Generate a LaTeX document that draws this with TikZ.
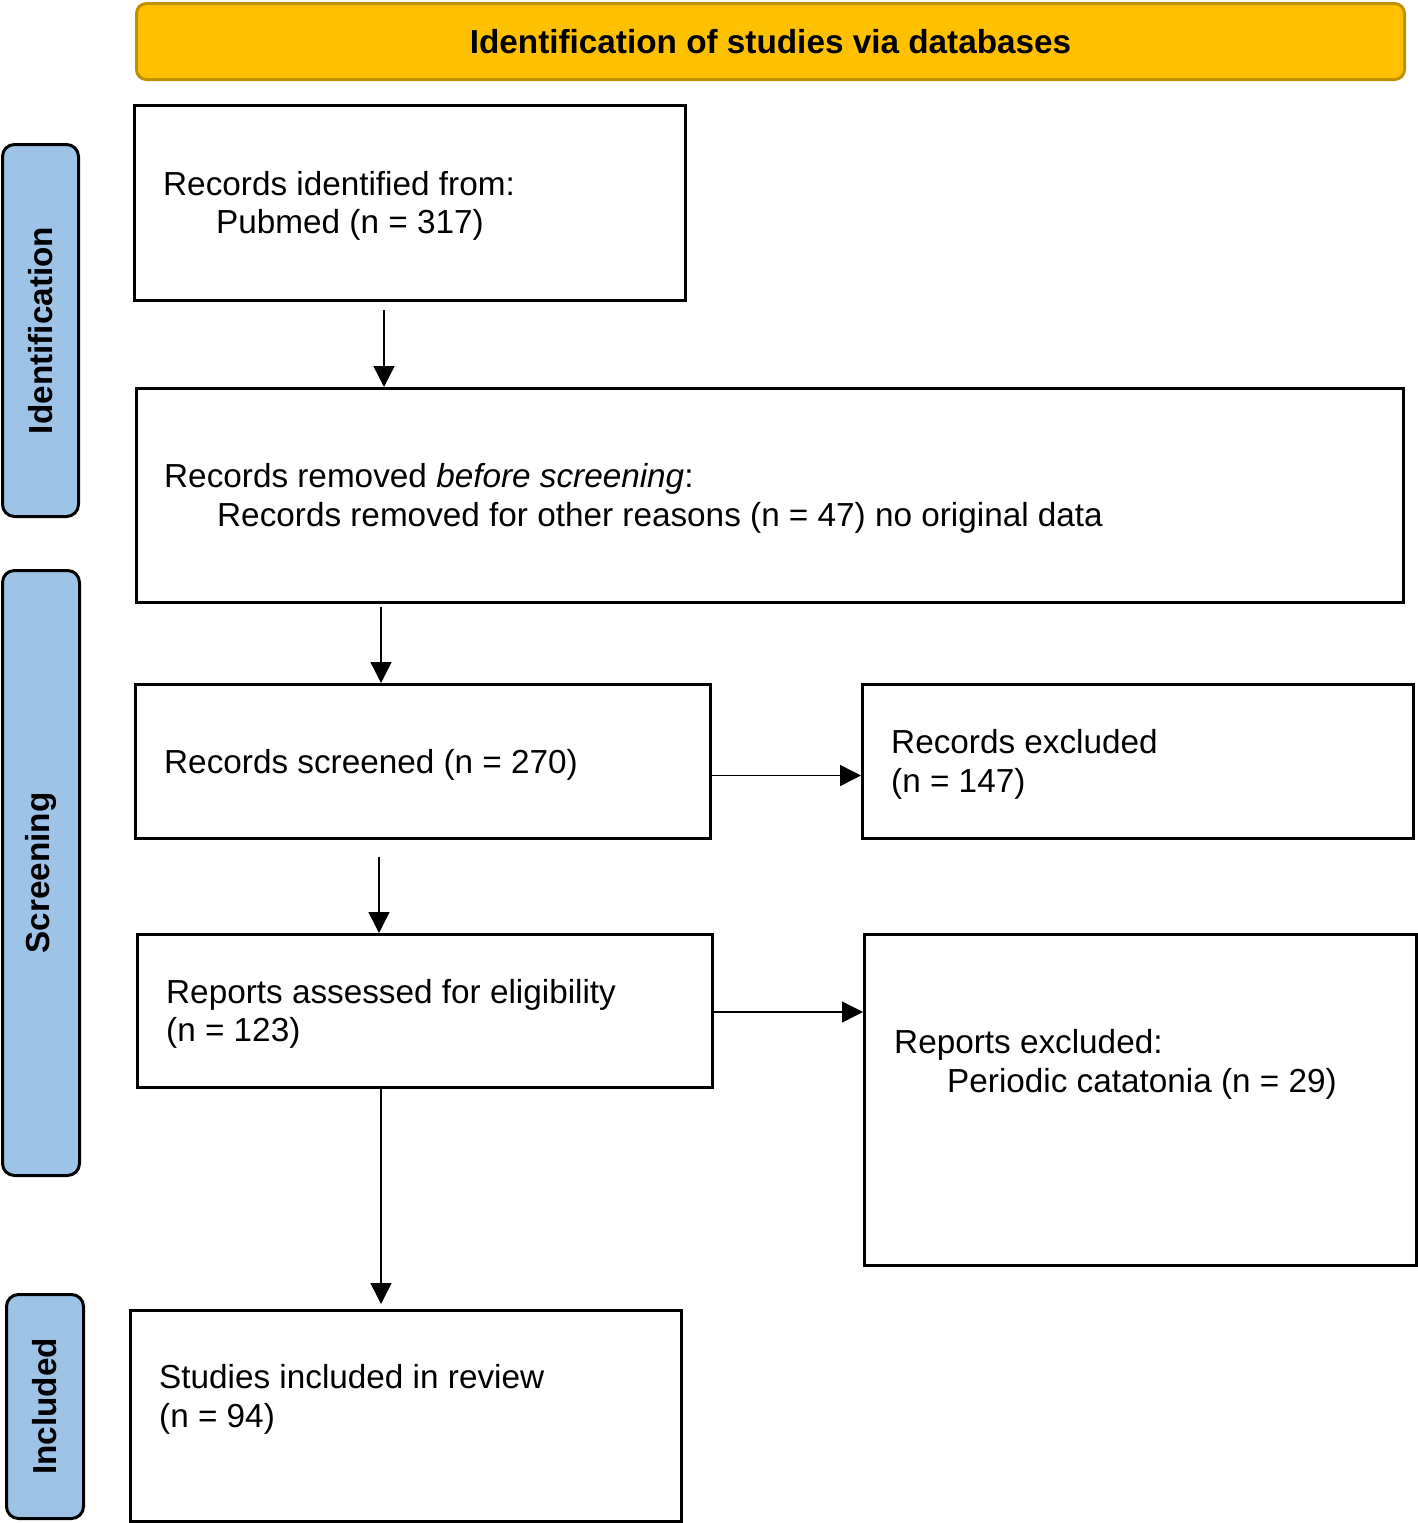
\documentclass[tikz,border=0pt]{standalone}
\usepackage{fontspec}
\setmainfont{Liberation Sans}
\usetikzlibrary{arrows.meta}
\definecolor{gold}{HTML}{FFC000}
\definecolor{golddark}{HTML}{BF9000}
\definecolor{sideblue}{HTML}{9DC3E6}
\begin{document}
\begin{tikzpicture}[x=1pt,y=-1pt,
  box/.style={draw=black, line width=3pt, anchor=north west, inner sep=0pt},
  txt/.style={anchor=base west, inner sep=0pt, font=\fontsize{33.3}{38.5}\selectfont},
  side/.style={draw=black, line width=3pt, fill=sideblue, rounded corners=12pt, rotate=90, inner sep=0pt, font=\fontsize{33.3}{38.5}\selectfont\bfseries},
  arr/.style={line width=1.4pt, -{Triangle[length=21pt,width=21pt]}}
]
\useasboundingbox (0,0) rectangle (1418,1523);
% title
\node[draw=golddark, fill=gold, line width=3pt, rounded corners=10pt, anchor=north west,
      minimum width=1268pt, minimum height=76pt, inner sep=0pt,
      font=\fontsize{33.3}{38.5}\selectfont\bfseries] (title) at (135,2) {Identification of studies via databases};
% side labels
\node[side, minimum width=372pt, minimum height=76pt] (sid) at (40.5,330.5) {Identification};
\node[side, minimum width=605pt, minimum height=77pt] (sscr) at (41,873) {Screening};
\node[side, minimum width=224pt, minimum height=77pt] (sinc) at (45,1406.5) {Included};
% boxes
\node[box, minimum width=551pt, minimum height=195pt] (b1) at (133,104) {};
\node[box, minimum width=1267pt, minimum height=214pt] (b2) at (135,387) {};
\node[box, minimum width=575pt, minimum height=154pt] (b3) at (134,683) {};
\node[box, minimum width=551pt, minimum height=154pt] (b4) at (861,683) {};
\node[box, minimum width=575pt, minimum height=153pt] (b5) at (136,933) {};
\node[box, minimum width=552pt, minimum height=331pt] (b6) at (863,933) {};
\node[box, minimum width=551pt, minimum height=211pt] (b7) at (129,1309) {};
% texts
\node[txt] (t1a) at (163,195) {Records identified from:};
\node[txt] (t1b) at (216,233) {Pubmed (n = 317)};
\node[txt] (t2a) at (164,487) {Records removed \textit{before screening}:};
\node[txt] (t2b) at (217,526) {Records removed for other reasons (n = 47) no original data};
\node[txt] (t3) at (164,773) {Records screened (n = 270)};
\node[txt] (t4a) at (891,753) {Records excluded};
\node[txt] (t4b) at (891,792) {(n = 147)};
\node[txt] (t5a) at (166,1003) {Reports assessed for eligibility};
\node[txt] (t5b) at (166,1041) {(n = 123)};
\node[txt] (t6a) at (894,1053) {Reports excluded:};
\node[txt] (t6b) at (947,1092) {Periodic catatonia (n = 29)};
\node[txt] (t7a) at (159,1388) {Studies included in review};
\node[txt] (t7b) at (159,1427) {(n = 94)};
% arrows
\draw[arr] ([xshift=251pt,yshift=-8pt]b1.south west) coordinate (a1) -- (a1 |- b2.north);
\draw[arr] ([xshift=246pt,yshift=-3pt]b2.south west) coordinate (a2) -- (a2 |- b3.north);
\draw[arr] ([yshift=-14pt]b3.east) coordinate (a3) -- (a3 -| b4.west);
\draw[arr] ([xshift=245pt,yshift=-17pt]b3.south west) coordinate (a4) -- (a4 |- b5.north);
\draw[arr] ([yshift=-1pt]b5.east) coordinate (a5) -- (a5 -| b6.west);
\draw[arr] ([xshift=245pt]b5.south west) coordinate (a6) -- ([yshift=5pt]a6 |- b7.north);
\end{tikzpicture}
\end{document}
